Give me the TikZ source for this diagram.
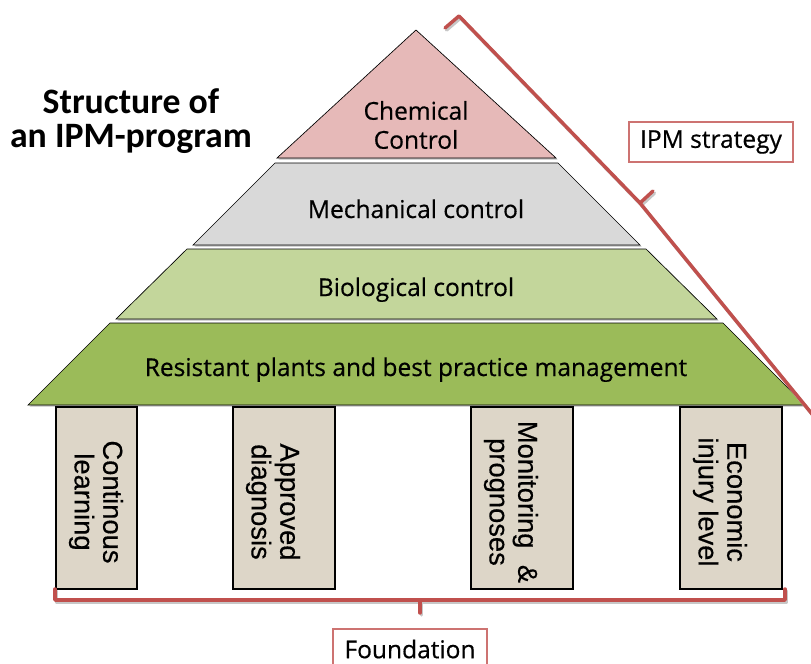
\documentclass[tikz,border=0pt]{standalone}
\usepackage{fontspec}
\setmainfont{Open Sans}[FakeBold=0.5]
\newfontfamily\titlefont{Carlito}
\newfontfamily\pillarfont{Liberation Sans}[FakeBold=0.4]
\usepackage{tikz}
\usetikzlibrary{calc}
\definecolor{chemred}{HTML}{E6B9B8}
\definecolor{mechgray}{HTML}{D9D9D9}
\definecolor{biogreen}{HTML}{C3D69B}
\definecolor{resgreen}{HTML}{9BBB59}
\definecolor{paper}{HTML}{DDD6C8}
\definecolor{bracered}{HTML}{C0504D}
\newcommand\labelsize{\fontsize{18.4}{21.75}\selectfont}

\begin{document}
\begin{tikzpicture}[x=0.75pt,y=-0.75pt,
  layer/.style={draw=black,line width=0.5pt},
  pillar/.style={draw=black,line width=2.2pt,fill=paper},
  brace/.style={bracered,line width=2.6pt,line join=round,line cap=round},
  braceshadow/.style={black!22,line width=2.6pt,line join=round,line cap=round,shift={(1.5,2)}},
  tag/.style={draw=bracered!80,line width=0.8pt,fill=white,minimum height=30pt,inner sep=0pt,font=\labelsize}]
\useasboundingbox (0,0) rectangle (811,664);
\clip (0,0) rectangle (811,664);

\node[align=center,font=\titlefont\bfseries\fontsize{26.8}{25.8}\selectfont] (title) at (131,121) {Structure of\\an IPM-program};

% pyramid layers
\fill[black!25,shift={(1.5,1.5)}] (416,30) -- (556,158) -- (277,158) -- cycle;
\draw[layer,fill=chemred] (416,30) -- (556,158) -- (277,158) -- cycle;
\foreach \c/\ty/\tl/\tr/\by/\bl/\br in {mechgray/163/275/558/245/193/640,
    biogreen/249/187/646/319/116/717, resgreen/323/110/723/405/28/805}{
    \fill[black!25,shift={(1.5,1.5)}] (\tl,\ty) -- (\tr,\ty) -- (\br,\by) -- (\bl,\by) -- cycle;
    \draw[layer,fill=\c] (\tl,\ty) -- (\tr,\ty) -- (\br,\by) -- (\bl,\by) -- cycle;
}
\node[align=center,font=\labelsize] (chem) at (416,125) {Chemical\\Control};
\node[anchor=base,font=\labelsize] (mech) at (416,218) {Mechanical control};
\node[anchor=base,font=\labelsize] (bio) at (416,296) {Biological control};
\node[anchor=base,font=\labelsize] (res) at (416,376) {Resistant plants and best practice management};

% pillars
\foreach \n/\l/\r/\t in {learn/56/137/{Continous\\learning}, diag/233/335/{Approved\\diagnosis},
    monit/471/573/{Monitoring\hspace{0.6em}\&\\prognoses}, econ/680/782/{Economic\\injury level}}{
    \draw[pillar] (\l,407) rectangle (\r,589);
    \node[rotate=-90,align=center,font=\pillarfont\fontsize{20.5}{21.5}\selectfont] (\n) at (\l+40,502) {\t};
}

% braces
\draw[braceshadow] (445,28) -- (459,16) -- (640,203) -- (830,436) -- (816,448);
\draw[braceshadow] (640,203) -- (653,191);
\draw[brace] (445,28) -- (459,16) -- (640,203) -- (830,436) -- (816,448);
\draw[brace] (640,203) -- (653,191);
\draw[braceshadow] (55,589) -- (55,600) -- (785,600) -- (785,589);
\draw[braceshadow] (420,600) -- (420,613);
\draw[brace] (55,589) -- (55,600) -- (785,600) -- (785,589);
\draw[brace] (420,600) -- (420,613);

\node[tag,minimum width=123pt] (strategy) at (711,142) {IPM strategy};
\node[tag,minimum width=115.5pt] (found) at (410,649) {Foundation};
\end{tikzpicture}
\end{document}
